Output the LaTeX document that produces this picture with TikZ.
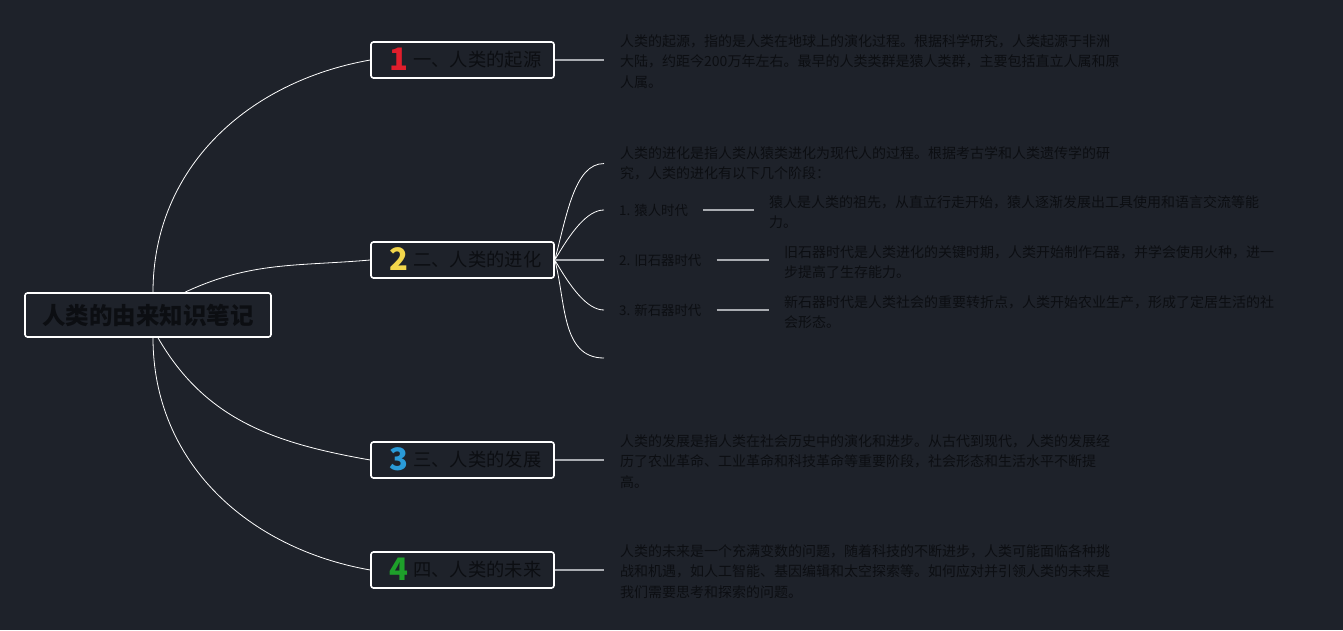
\documentclass[tikz,border=0pt]{standalone}
\usepackage{fontspec}
\setmainfont{Noto Sans CJK SC}
\usetikzlibrary{topaths}
\definecolor{bgc}{HTML}{1E222A}
\definecolor{ink}{HTML}{0C0E12}
\definecolor{stubgray}{HTML}{A9ACB1}
\definecolor{numred}{HTML}{E01E2C}
\definecolor{numyellow}{HTML}{F2D64B}
\definecolor{numblue}{HTML}{2A9BD8}
\definecolor{numgreen}{HTML}{1EA02A}
\newcommand\branchno[2]{\hspace{6pt}\raisebox{-4.5pt}{\color{#1}\bfseries\fontsize{31}{31}\selectfont #2}\hspace{5pt}}

\begin{document}
\begin{tikzpicture}[x=1pt,y=1pt,
  topic/.style={draw=white,line width=1.6pt,rounded corners=2.5pt,fill=bgc,text=ink,inner sep=0pt},
  root/.style={topic,minimum width=246pt,minimum height=44pt,font=\bfseries\fontsize{23.5}{23.5}\selectfont},
  branch/.style={topic,minimum width=183pt,minimum height=36pt,text height=12.6pt,text depth=0pt,font=\fontsize{18.3}{18.3}\selectfont},
  note/.style={anchor=north west,inner sep=0pt,align=left,text=ink,font=\fontsize{14}{20.5}\selectfont},
  item/.style={anchor=west,inner sep=0pt,text=ink,font=\fontsize{13.4}{13.4}\selectfont},
  link/.style={white,line width=0.8pt},
  stub/.style={stubgray,line width=1.6pt}
]
  \fill[bgc] (0,0) rectangle (1343,630);

  \node[root] (root) at (148,315) {人类的由来知识笔记};

  \node[branch] (b1) at (462.5,570) {\branchno{numred}{1}一、人类的起源};
  \node[branch] (b2) at (462.5,370) {\branchno{numyellow}{2}二、人类的进化};
  \node[branch] (b3) at (462.5,170) {\branchno{numblue}{3}三、人类的发展};
  \node[branch] (b4) at (462.5,60) {\branchno{numgreen}{4}四、人类的未来};

  \node[note] (d1) at (620,595.6) {人类的起源，指的是人类在地球上的演化过程。根据科学研究，人类起源于非洲\\
    大陆，约距今200万年左右。最早的人类类群是猿人类群，主要包括直立人属和原\\
    人属。};
  \node[note] (p2) at (620,483.6) {人类的进化是指人类从猿类进化为现代人的过程。根据考古学和人类遗传学的研\\
    究，人类的进化有以下几个阶段：};
  \node[note] (d3) at (620,195.6) {人类的发展是指人类在社会历史中的演化和进步。从古代到现代，人类的发展经\\
    历了农业革命、工业革命和科技革命等重要阶段，社会形态和生活水平不断提\\
    高。};
  \node[note] (d4) at (620,85.6) {人类的未来是一个充满变数的问题，随着科技的不断进步，人类可能面临各种挑\\
    战和机遇，如人工智能、基因编辑和太空探索等。如何应对并引领人类的未来是\\
    我们需要思考和探索的问题。};

  \node[item] (s1) at (619,420) {1. 猿人时代};
  \node[item] (s2) at (619,370) {2. 旧石器时代};
  \node[item] (s3) at (619,320) {3. 新石器时代};
  \coordinate (e2) at (604,272);

  \node[note] (sd1) at (769,434.6) {猿人是人类的祖先，从直立行走开始，猿人逐渐发展出工具使用和语言交流等能\\
    力。};
  \node[note] (sd2) at (784,384.6) {旧石器时代是人类进化的关键时期，人类开始制作石器，并学会使用火种，进一\\
    步提高了生存能力。};
  \node[note] (sd3) at (784,334.6) {新石器时代是人类社会的重要转折点，人类开始农业生产，形成了定居生活的社\\
    会形态。};

  \path[link]
    ([xshift=5pt]root.north) edge[out=90,in=190] (b1.west)
    ([xshift=37pt]root.north) edge[out=25,in=185] (b2.west)
    ([xshift=10pt]root.south) edge[out=-60,in=170] (b3.west)
    ([xshift=5pt]root.south) edge[out=-90,in=170] (b4.west)
    (b2.east) edge[out=75,in=180,shorten >=16pt] (p2.west)
    (b2.east) edge[out=60,in=180,shorten >=15pt] (s1.west)
    (b2.east) edge[out=-60,in=180,shorten >=15pt] (s3.west)
    (b2.east) edge[out=-75,in=180] (e2);

  \draw[stub,shorten >=16pt] (b1.east) -- (b1.east -| d1.west);
  \draw[stub,shorten >=16pt] (b3.east) -- (b3.east -| d3.west);
  \draw[stub,shorten >=16pt] (b4.east) -- (b4.east -| d4.west);
  \draw[stub,shorten >=15pt] (b2.east) -- (s2.west);
  \draw[stub,shorten <=15pt,shorten >=15pt] (s1.east) -- (s1.east -| sd1.west);
  \draw[stub,shorten <=15pt,shorten >=15pt] (s2.east) -- (s2.east -| sd2.west);
  \draw[stub,shorten <=15pt,shorten >=15pt] (s3.east) -- (s3.east -| sd3.west);
\end{tikzpicture}
\end{document}
